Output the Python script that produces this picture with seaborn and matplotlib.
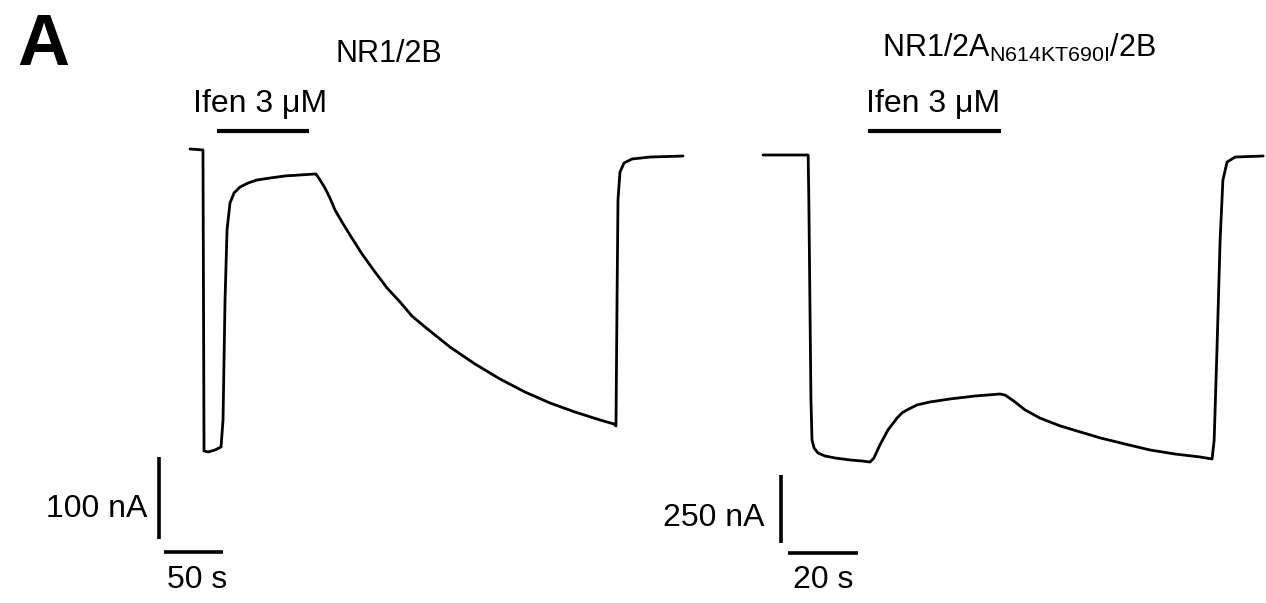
import matplotlib
matplotlib.use("Agg")
import matplotlib.pyplot as plt
import pandas as pd
import seaborn as sns

# NR1/2B recording: time (s) and current (nA)
nr2b_time = [0.0, 11.0, 11.9, 15.3, 21.2, 26.3, 28.0, 29.7, 31.4, 33.9, 37.3, 42.4,
             49.2, 56.8, 67.8, 80.5, 93.2, 105.9, 106.8, 110.2, 114.4, 118.6, 122.9,
             128.8, 135.6, 145.8, 156.8, 167.0, 178.0, 188.1, 199.2, 220.3, 241.5,
             262.7, 283.9, 305.1, 326.3, 347.5, 359.3, 361.0, 361.9, 362.7, 364.4,
             367.8, 374.6, 389.8, 417.8]
nr2b_current = [-1.2, -2.4, -369.5, -370.7, -368.3, -364.6, -331.7, -185.4, -100.0,
                -67.1, -54.9, -47.6, -42.7, -39.0, -36.6, -34.1, -32.9, -31.7, -31.7,
                -39.0, -48.8, -61.0, -75.6, -90.2, -106.1, -129.3, -151.2, -170.7,
                -187.8, -204.9, -218.3, -242.7, -263.4, -281.7, -297.6, -311.0,
                -322.0, -331.7, -336.6, -339.0, -185.4, -63.4, -29.3, -18.3, -13.4,
                -11.0, -9.8]

# NR1/2A(N614K/T690I)/2B recording: time (s) and current (nA)
mut_time = [0.0, 12.9, 13.1, 13.7, 14.0, 14.6, 15.7, 17.7, 20.6, 24.9, 28.3, 30.6,
            31.7, 33.4, 35.7, 38.3, 39.7, 41.1, 44.0, 47.7, 53.4, 60.6, 67.7, 69.1,
            70.0, 72.0, 74.9, 79.1, 84.9, 90.6, 96.3, 103.4, 110.6, 117.7, 124.9,
            128.3, 128.9, 129.7, 130.6, 131.4, 132.6, 134.9, 142.9]
mut_current = [0.0, 0.0, -165.0, -900.7, -1047.8, -1077.2, -1095.6, -1106.6, -1114.0,
               -1121.3, -1125.0, -1128.7, -1114.0, -1066.0, -1011.0, -967.0, -948.5,
               -937.5, -919.0, -908.0, -897.0, -886.0, -878.7, -882.4, -889.7, -908.0,
               -937.5, -967.0, -996.0, -1018.0, -1040.0, -1062.5, -1084.6, -1099.3,
               -1110.3, -1117.6, -1047.8, -716.9, -312.5, -91.9, -25.7, -7.4, -3.7]

# Ifenprodil application windows (s)
ifen_nr2b = [23.0, 101.0]
ifen_mut = [30.0, 68.0]

# Scale bars: lengths
scale_nr2b = {"current": 100, "time": 50}
scale_mut = {"current": 250, "time": 20}

sns.set_theme(style="white")
plt.rcParams["font.family"] = ["Liberation Sans", "DejaVu Sans"]
plt.rcParams["text.color"] = "black"
plt.rcParams["mathtext.fontset"] = "custom"
plt.rcParams["mathtext.rm"] = "Liberation Sans"

W, H = 1266, 603
fig = plt.figure(figsize=(W / 100, H / 100), dpi=100)
fig.patch.set_facecolor("white")

FS = 23
TITLE_FS = 22


def panel(rect, xlim, ylim, t, i, ifen, scale, bar_x, bar_y0, hbar_x, hbar_y,
          ifen_text_x, ifen_text_y, ifen_bar_y, vlab, hlab):
    ax = fig.add_axes(rect)
    ax.patch.set_alpha(0)
    df = pd.DataFrame({"t": t, "i": i})
    sns.lineplot(data=df, x="t", y="i", sort=False, estimator=None,
                 color="black", lw=2.0, ax=ax, solid_joinstyle="round")
    ax.set_xlim(*xlim)
    ax.set_ylim(*ylim)
    ax.set_axis_off()
    # drug application bar and label
    ax.plot(ifen, [ifen_bar_y, ifen_bar_y], color="black", lw=3.0,
            solid_capstyle="butt")
    ax.text(ifen_text_x, ifen_text_y, "Ifen 3 μM", fontsize=FS,
            ha="left", va="baseline")
    # scale bars
    ax.plot([bar_x, bar_x], [bar_y0, bar_y0 - scale["current"]], color="black",
            lw=2.6, solid_capstyle="butt")
    ax.plot([hbar_x, hbar_x + scale["time"]], [hbar_y, hbar_y], color="black",
            lw=2.6, solid_capstyle="butt")
    ax.text(vlab[0], vlab[1], f"{scale['current']} nA", fontsize=FS,
            ha="right", va="baseline")
    ax.text(hlab[0], hlab[1], f"{scale['time']} s", fontsize=FS,
            ha="left", va="baseline")
    return ax


# left panel: 1.18 px/s, 0.82 px/nA
panel([0, 0, 740 / W, 1], (-161.0, 466.1), (-554.9, 180.5),
      nr2b_time, nr2b_current, ifen_nr2b, scale_nr2b,
      bar_x=-26.3, bar_y0=-376.8, hbar_x=-22.0, hbar_y=-492.7,
      ifen_text_x=2.5, ifen_text_y=43.9, ifen_bar_y=20.7,
      vlab=(-36.4, -450.0), hlab=(-19.5, -536.6))

# right panel: 3.5 px/s, 0.272 px/nA
panel([640 / W, 0, 626 / W, 1], (-35.14, 143.71), (-1647.1, 569.9),
      mut_time, mut_current, ifen_mut, scale_mut,
      bar_x=5.14, bar_y0=-1176.5, hbar_x=7.14, hbar_y=-1463.0,
      ifen_text_x=29.4, ifen_text_y=158.0, ifen_bar_y=88.2,
      vlab=(0.57, -1364.0), hlab=(8.6, -1592.0))

fig.text(389 / W, 1 - 62 / H, "NR1/2B", fontsize=TITLE_FS, ha="center",
         va="baseline")
fig.text(882 / W, 1 - 57 / H, r"NR1/2A$_{\mathregular{N614KT690I}}$/2B",
         fontsize=TITLE_FS, ha="left", va="baseline")
fig.text(17 / W, 1 - 65 / H, "A", fontsize=52, fontweight="bold",
         family=["Liberation Sans Narrow", "Liberation Sans"],
         ha="left", va="baseline")

fig.savefig("out.png", dpi=100, facecolor="white")
